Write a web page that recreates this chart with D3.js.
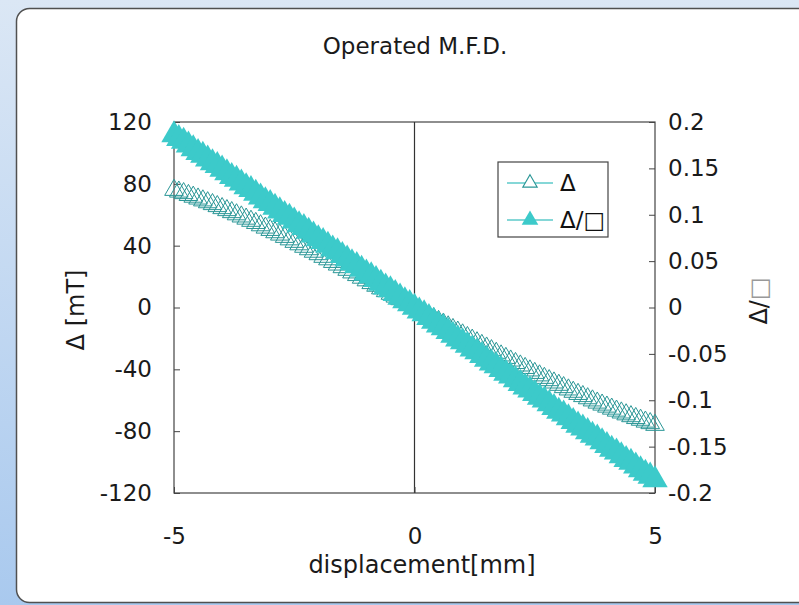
<!DOCTYPE html>
<html>
<head>
<meta charset="utf-8">
<script src="https://cdn.jsdelivr.net/npm/d3@7"></script>
<style>
  html, body { margin: 0; padding: 0; background: #dce8f5; }
  svg { display: block; font-family: "DejaVu Sans", Verdana, sans-serif; }
</style>
</head>
<body>
<div id="chart"></div>
<script>
  //Chart data - displacement [mm]
  let xValues = [-5, -4.9, -4.8, -4.7, -4.6, -4.5, -4.4, -4.3, -4.2, -4.1, -4, -3.9, -3.8, -3.7, -3.6, -3.5, -3.4, -3.3, -3.2, -3.1,
    -3, -2.9, -2.8, -2.7, -2.6, -2.5, -2.4, -2.3, -2.2, -2.1, -2, -1.9, -1.8, -1.7, -1.6, -1.5, -1.4, -1.3, -1.2, -1.1,
    -1, -0.9, -0.8, -0.7, -0.6, -0.5, -0.4, -0.3, -0.2, -0.1, 0, 0.1, 0.2, 0.3, 0.4, 0.5, 0.6, 0.7, 0.8, 0.9,
    1, 1.1, 1.2, 1.3, 1.4, 1.5, 1.6, 1.7, 1.8, 1.9, 2, 2.1, 2.2, 2.3, 2.4, 2.5, 2.6, 2.7, 2.8, 2.9,
    3, 3.1, 3.2, 3.3, 3.4, 3.5, 3.6, 3.7, 3.8, 3.9, 4, 4.1, 4.2, 4.3, 4.4, 4.5, 4.6, 4.7, 4.8, 4.9, 5];

  //Δ [mT] - left axis (hollow triangles)
  let deltaValues = [76.0, 74.9, 73.9, 72.7, 71.6, 70.4, 69.2, 68.0, 66.8, 65.5, 64.2, 62.9, 61.6, 60.2, 58.8, 57.4, 56.0, 54.6, 53.1, 51.6,
    50.1, 48.6, 47.1, 45.6, 44.0, 42.4, 40.8, 39.2, 37.6, 36.0, 34.4, 32.7, 31.1, 29.4, 27.7, 26.0, 24.3, 22.6, 20.9, 19.2,
    17.5, 15.7, 14.0, 12.3, 10.5, 8.8, 7.0, 5.3, 3.5, 1.8, 0, -1.8, -3.5, -5.3, -7.0, -8.8, -10.5, -12.3, -14.0, -15.7,
    -17.5, -19.2, -20.9, -22.6, -24.3, -26.0, -27.7, -29.4, -31.1, -32.7, -34.4, -36.0, -37.6, -39.2, -40.8, -42.4, -44.0, -45.6, -47.1, -48.6,
    -50.1, -51.6, -53.1, -54.6, -56.0, -57.4, -58.8, -60.2, -61.6, -62.9, -64.2, -65.5, -66.8, -68.0, -69.2, -70.4, -71.6, -72.7, -73.9, -74.9, -76.0];

  //Δ/□ - right axis (filled triangles)
  let ratioValues = [0.186, 0.182, 0.179, 0.175, 0.171, 0.167, 0.164, 0.160, 0.156, 0.153, 0.149, 0.145, 0.141, 0.138, 0.134, 0.130, 0.127, 0.123, 0.119, 0.115,
    0.112, 0.108, 0.104, 0.100, 0.097, 0.093, 0.089, 0.086, 0.082, 0.078, 0.074, 0.071, 0.067, 0.063, 0.060, 0.056, 0.052, 0.048, 0.045, 0.041,
    0.037, 0.034, 0.030, 0.026, 0.022, 0.019, 0.015, 0.011, 0.007, 0.004, 0, -0.004, -0.007, -0.011, -0.015, -0.019, -0.022, -0.026, -0.030, -0.034,
    -0.037, -0.041, -0.045, -0.048, -0.052, -0.056, -0.060, -0.063, -0.067, -0.071, -0.074, -0.078, -0.082, -0.086, -0.089, -0.093, -0.097, -0.100, -0.104, -0.108,
    -0.112, -0.115, -0.119, -0.123, -0.127, -0.130, -0.134, -0.138, -0.141, -0.145, -0.149, -0.153, -0.156, -0.160, -0.164, -0.167, -0.171, -0.175, -0.179, -0.182, -0.186];

  //Tick values and labels
  let xTicks = [-5, 0, 5];
  let leftTicks = [-120, -80, -40, 0, 40, 80, 120];
  let rightTicks = [-0.2, -0.15, -0.1, -0.05, 0, 0.05, 0.1, 0.15, 0.2];
  let rightTickLabels = ["-0.2", "-0.15", "-0.1", "-0.05", "0", "0.05", "0.1", "0.15", "0.2"];

  let seriesNames = ["Δ", "Δ/□"];

  let width = 799, height = 605;
  let plot = {left: 174, right: 655, top: 122, bottom: 493};

  let svg = d3.select("#chart").append("svg")
    .attr("width", width)
    .attr("height", height);

  //Background gradient behind the card
  let defs = svg.append("defs");
  let grad = defs.append("linearGradient")
    .attr("id", "bg")
    .attr("x1", 0).attr("y1", 0).attr("x2", 0).attr("y2", 1);
  grad.append("stop").attr("offset", "0%").attr("stop-color", "#dbe7f5");
  grad.append("stop").attr("offset", "100%").attr("stop-color", "#a9c9ee");

  svg.append("rect")
    .attr("width", width)
    .attr("height", height)
    .attr("fill", "url(#bg)");

  //White card with rounded corners
  svg.append("rect")
    .attr("x", 16.5)
    .attr("y", 8.5)
    .attr("width", 800)
    .attr("height", 594)
    .attr("rx", 13)
    .attr("fill", "#ffffff")
    .attr("stroke", "#505050")
    .attr("stroke-width", 1.5);

  //Scales
  let x = d3.scaleLinear().domain([-5, 5]).range([plot.left, plot.right]);
  let yLeft = d3.scaleLinear().domain([-120, 120]).range([plot.bottom, plot.top]);
  let yRight = d3.scaleLinear().domain([-0.2, 0.2]).range([plot.bottom, plot.top]);

  //Plot frame
  svg.append("rect")
    .attr("x", plot.left)
    .attr("y", plot.top)
    .attr("width", plot.right - plot.left)
    .attr("height", plot.bottom - plot.top)
    .attr("fill", "none")
    .attr("stroke", "#444")
    .attr("stroke-width", 1.2);

  //Vertical line at x = 0
  svg.append("line")
    .attr("x1", x(0)).attr("x2", x(0))
    .attr("y1", plot.top).attr("y2", plot.bottom)
    .attr("stroke", "#333")
    .attr("stroke-width", 1.2);

  //Axes - ticks pointing inward, plain hyphen minus signs
  let fontSize = 23;
  let hyphen = function(d) { return String(d); };

  let leftAxis = svg.append("g")
    .attr("transform", "translate(" + plot.left + ",0)")
    .call(d3.axisLeft(yLeft).tickValues(leftTicks).tickSize(-6).tickPadding(22).tickFormat(hyphen));

  let rightAxis = svg.append("g")
    .attr("transform", "translate(" + plot.right + ",0)")
    .call(d3.axisRight(yRight).tickValues(rightTicks).tickSize(-6).tickPadding(13)
      .tickFormat(function(d, i) { return rightTickLabels[i]; }));

  let bottomAxis = svg.append("g")
    .attr("transform", "translate(0," + plot.bottom + ")")
    .call(d3.axisBottom(x).tickValues(xTicks).tickSize(-6).tickPadding(35).tickFormat(hyphen));

  [leftAxis, rightAxis, bottomAxis].forEach(function(a) {
    a.select(".domain").remove();
    a.selectAll(".tick line").attr("stroke", "#444");
    a.selectAll("text")
      .attr("font-size", fontSize)
      .attr("font-family", "DejaVu Sans, sans-serif")
      .attr("fill", "#1a1a1a");
  });

  //Series markers
  let hollowColor = "#2a9696";
  let filledColor = "#3ccaca";
  let hollowSymbol = d3.symbol().type(d3.symbolTriangle).size(150);
  let filledSymbol = d3.symbol().type(d3.symbolTriangle).size(280);

  let hollowData = xValues.map(function(v, i) { return {x: v, y: deltaValues[i]}; });
  let filledData = xValues.map(function(v, i) { return {x: v, y: ratioValues[i]}; });

  svg.append("g").selectAll("path")
    .data(hollowData)
    .enter()
    .append("path")
      .attr("d", hollowSymbol)
      .attr("transform", function(d) { return "translate(" + x(d.x) + "," + yLeft(d.y) + ")"; })
      .attr("fill", "none")
      .attr("stroke", hollowColor)
      .attr("stroke-width", 1);

  svg.append("g").selectAll("path")
    .data(filledData)
    .enter()
    .append("path")
      .attr("d", filledSymbol)
      .attr("transform", function(d) { return "translate(" + x(d.x) + "," + yRight(d.y) + ")"; })
      .attr("fill", filledColor);

  //Title and axis labels
  svg.append("text")
    .text("Operated M.F.D.")
    .attr("x", 415)
    .attr("y", 54)
    .attr("text-anchor", "middle")
    .attr("font-size", 23)
    .attr("fill", "#1a1a1a");

  svg.append("text")
    .text("displacement[mm]")
    .attr("x", 422)
    .attr("y", 573)
    .attr("text-anchor", "middle")
    .attr("font-size", 24)
    .attr("fill", "#1a1a1a");

  svg.append("text")
    .text("Δ [mT]")
    .attr("transform", "translate(84,310) rotate(-90)")
    .attr("text-anchor", "middle")
    .attr("font-size", 24)
    .attr("fill", "#1a1a1a");

  let rightLabel = svg.append("text")
    .attr("transform", "translate(767,301) rotate(-90)")
    .attr("text-anchor", "middle")
    .attr("font-size", 24)
    .attr("fill", "#1a1a1a");
  rightLabel.append("tspan").text("Δ/");
  rightLabel.append("tspan").text("□").attr("fill", "#999");

  //Legend
  let legend = svg.append("g").attr("transform", "translate(498,162)");
  legend.append("rect")
    .attr("width", 110)
    .attr("height", 75)
    .attr("fill", "#fff")
    .attr("stroke", "#444")
    .attr("stroke-width", 1.2);

  seriesNames.forEach(function(name, i) {
    let row = legend.append("g").attr("transform", "translate(0," + (21 + i * 37) + ")");
    row.append("line")
      .attr("x1", 9).attr("x2", 55)
      .attr("stroke", "#5ccaca")
      .attr("stroke-width", 1.5);
    row.append("path")
      .attr("d", d3.symbol().type(d3.symbolTriangle).size(i === 0 ? 90 : 120)())
      .attr("transform", "translate(32,0)")
      .attr("fill", i === 0 ? "#fff" : filledColor)
      .attr("stroke", i === 0 ? hollowColor : "none")
      .attr("stroke-width", 1.1);
    row.append("text")
      .text(name)
      .attr("x", 62)
      .attr("y", 8)
      .attr("font-size", 23)
      .attr("fill", "#111");
  });
</script>
</body>
</html>
